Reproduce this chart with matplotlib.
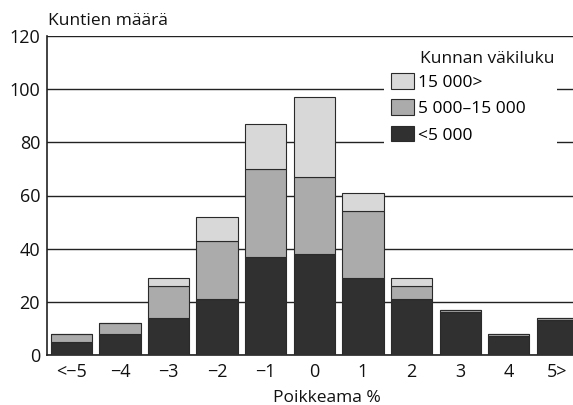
import matplotlib.pyplot as plt
from matplotlib.patches import Patch, Rectangle

plt.rcParams['font.family'] = ['Open Sans', 'DejaVu Sans']

# poikkeama-luokat ja kuntien maara kokoluokittain
luokat = ['<\u22125', '\u22124', '\u22123', '\u22122', '\u22121', '0', '1', '2', '3', '4', '5>']
alle_5000 = [5, 8, 14, 21, 37, 38, 29, 21, 16, 7, 13]
valilta_5000_15000 = [3, 4, 12, 22, 33, 29, 25, 5, 1, 1, 1]
yli_15000 = [0, 0, 3, 9, 17, 30, 7, 3, 0, 0, 0]

sarjat = ['15 000>', '5 000\u201315 000', '<5 000']
varit = ['#d8d8d8', '#ababab', '#303030']

W, H = 573, 405
fig = plt.figure(figsize=(W / 100, H / 100), dpi=100)
ax = fig.add_axes([47 / W, 1 - 355 / H, 1 - 47 / W, (355 - 36) / H])

x = list(range(len(luokat)))
pohja2 = [a + b for a, b in zip(alle_5000, valilta_5000_15000)]
kw = dict(width=0.85, edgecolor='#2a2a2a', linewidth=0.8, zorder=3)
ax.bar(x, alle_5000, color=varit[2], **kw)
ax.bar(x, valilta_5000_15000, bottom=alle_5000, color=varit[1], **kw)
ax.bar(x, yli_15000, bottom=pohja2, color=varit[0], **kw)

ax.set_xlim(-0.5, 10.32)
ax.set_ylim(0, 120)
ax.set_yticks(range(0, 121, 20))
ax.set_xticks(x)
ax.set_xticklabels(luokat)
ax.tick_params(length=0, labelsize=13, colors='#111111')
ax.tick_params(axis='x', pad=6)
ax.tick_params(axis='y', pad=5)
ax.set_axisbelow(True)
ax.yaxis.grid(True, color='#222222', linewidth=1.0)
for s in ['top', 'right']:
    ax.spines[s].set_visible(False)
for s in ['left', 'bottom']:
    ax.spines[s].set_color('#222222')
    ax.spines[s].set_linewidth(1.2)

fig.text(48 / W, 1 - 21 / H, 'Kuntien m\u00e4\u00e4r\u00e4', fontsize=12.5, va='center', ha='left', color='#111111')
fig.text(327 / W, 1 - 398 / H, 'Poikkeama %', fontsize=12.5, va='center', ha='center', color='#111111')

# legendan valkoinen tausta katkaisee apuviivat
ax.add_patch(Rectangle((384 / W, 1 - 152 / H), (557 - 384) / W, 104 / H,
                       transform=fig.transFigure, facecolor='white', edgecolor='none', zorder=2))
fig.text(420 / W, 1 - 59 / H, 'Kunnan v\u00e4kiluku', fontsize=12.5, va='center', ha='left', color='#111111')
kahvat = [Patch(facecolor=c, edgecolor='#2a2a2a', linewidth=0.8) for c in varit]
leg = ax.legend(kahvat, sarjat, loc='upper left', bbox_to_anchor=(391 / W, 1 - 73 / H),
                bbox_transform=fig.transFigure, frameon=False, fontsize=12.5,
                handlelength=1.3, handleheight=1.0, handletextpad=0.25, labelspacing=0.5,
                borderpad=0.0, borderaxespad=0.0)
leg.set_zorder(5)

fig.savefig('out.png', dpi=100)
